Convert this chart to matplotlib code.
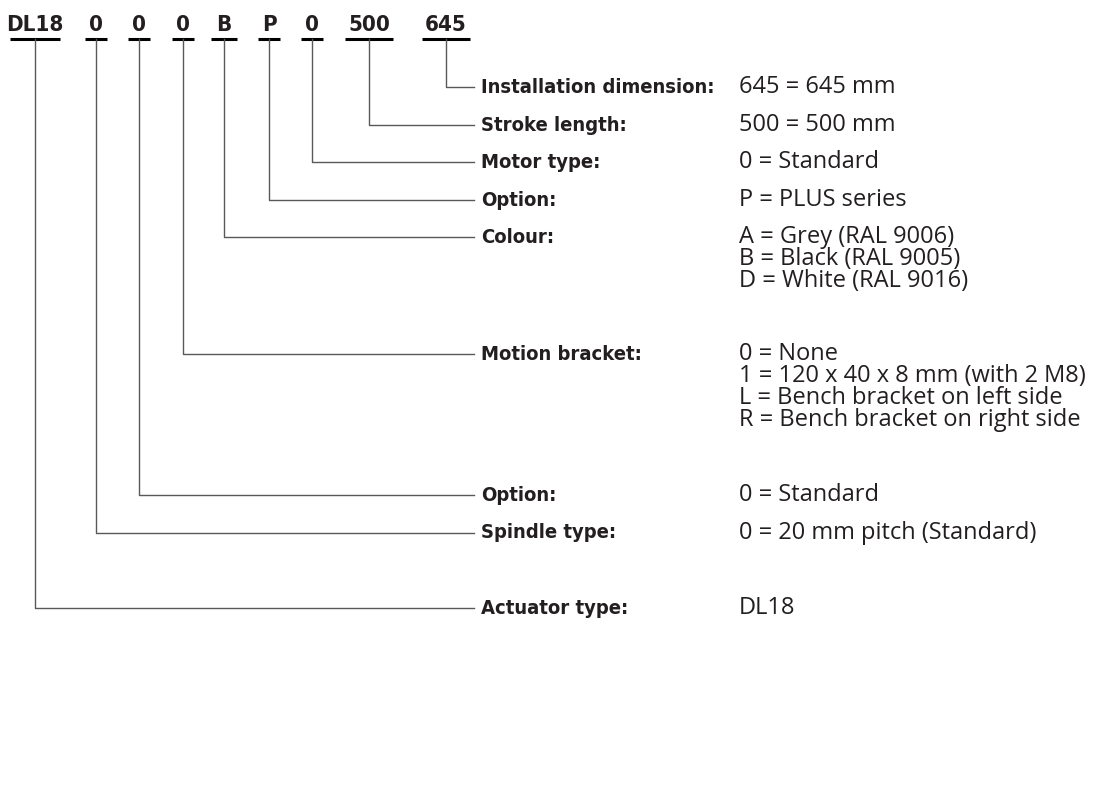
import matplotlib.pyplot as plt

# code segments on top and the x position of their leader lines
codes = ['DL18', '0', '0', '0', 'B', 'P', '0', '500', '645']
code_x = [35, 96, 139, 183, 224, 269, 312, 369, 446]
code_halfw = [25, 11, 11, 11, 13, 11, 11, 24, 24]

# labels, one per code (same order), with row y and value lines
labels = ['Actuator type:', 'Spindle type:', 'Option:', 'Motion bracket:',
          'Colour:', 'Option:', 'Motor type:', 'Stroke length:',
          'Installation dimension:']
label_y = [608, 533, 495, 354, 237, 200, 162, 125, 87]
values = [
    ['DL18'],
    ['0 = 20 mm pitch (Standard)'],
    ['0 = Standard'],
    ['0 = None', '1 = 120 x 40 x 8 mm (with 2 M8)',
     'L = Bench bracket on left side', 'R = Bench bracket on right side'],
    ['A = Grey (RAL 9006)', 'B = Black (RAL 9005)', 'D = White (RAL 9016)'],
    ['P = PLUS series'],
    ['0 = Standard'],
    ['500 = 500 mm'],
    ['645 = 645 mm'],
]

txt = '#231f20'
lead = '#58595b'
fam = ['Open Sans', 'DejaVu Sans']

fig = plt.figure(figsize=(11.02, 7.89), dpi=100)
ax = fig.add_axes([0, 0, 1, 1])
ax.set_xlim(0, 1102)
ax.set_ylim(789, 0)
ax.axis('off')

top_y = 39
for c, x, hw in zip(codes, code_x, code_halfw):
    ax.text(x, 31, c, ha='center', va='baseline', fontsize=16,
            fontweight='bold', color=txt, family='DejaVu Sans',
            fontstretch='condensed')
    ax.plot([x - hw, x + hw], [top_y, top_y], color='black', lw=2.2,
            solid_capstyle='butt')

for x, lab, y, vals in zip(code_x, labels, label_y, values):
    ax.plot([x, x, 474], [top_y, y, y], color=lead, lw=1.0)
    ax.text(481, y, lab, ha='left', va='center', fontsize=14.5,
            fontweight='bold', color=txt, family='DejaVu Sans',
            fontstretch='condensed')
    for i, v in enumerate(vals):
        ax.text(739, y + i * 22, v, ha='left', va='center', fontsize=17,
                color=txt, family=fam)

fig.savefig('out.png', dpi=100)
